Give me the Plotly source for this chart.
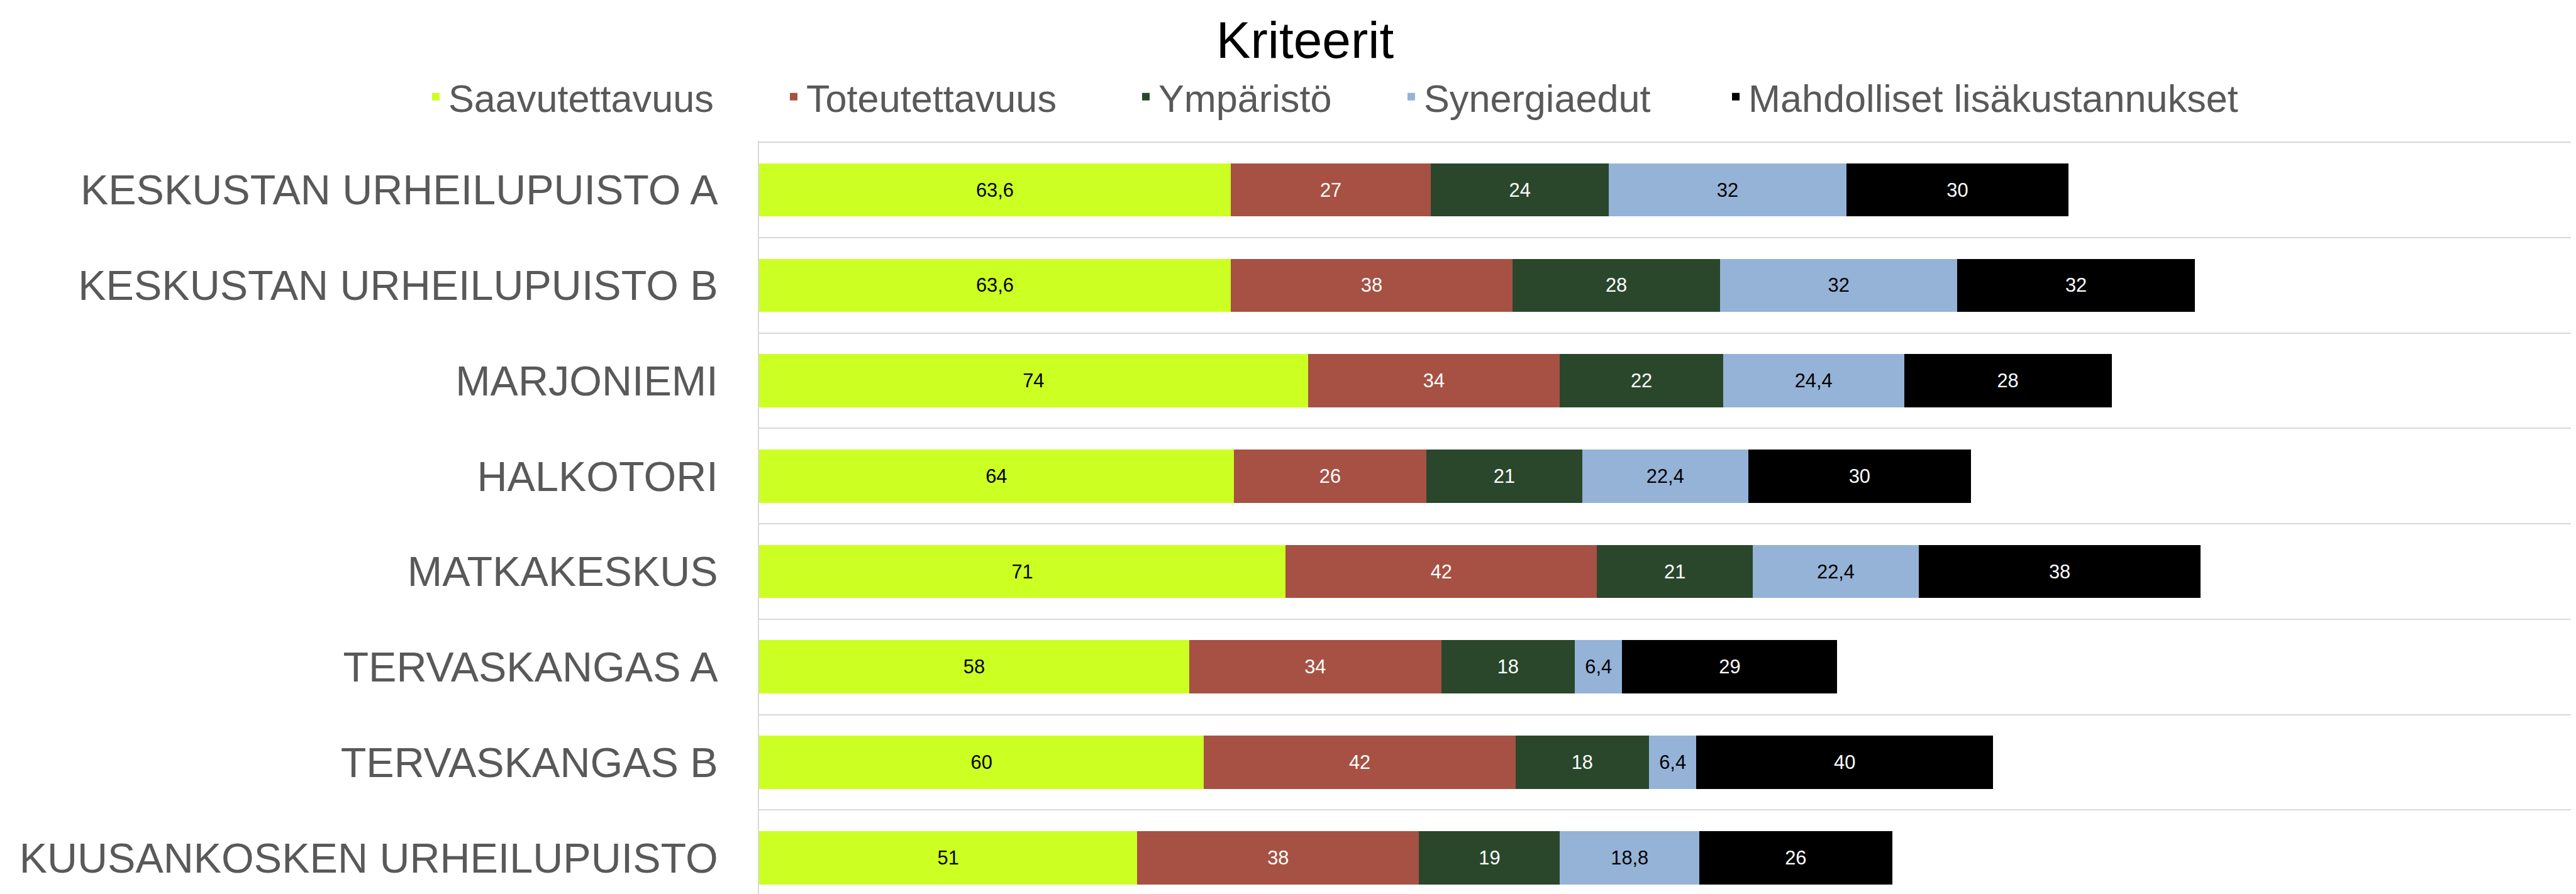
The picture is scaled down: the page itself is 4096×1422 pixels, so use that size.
import plotly.graph_objects as go

categories = [
    "KESKUSTAN URHEILUPUISTO A",
    "KESKUSTAN URHEILUPUISTO B",
    "MARJONIEMI",
    "HALKOTORI",
    "MATKAKESKUS",
    "TERVASKANGAS A",
    "TERVASKANGAS B",
    "KUUSANKOSKEN URHEILUPUISTO",
]
series_names = ["Saavutettavuus", "Toteutettavuus", "Ympäristö", "Synergiaedut",
                "Mahdolliset lisäkustannukset"]
saavutettavuus = [63.6, 63.6, 74, 64, 71, 58, 60, 51]
toteutettavuus = [27, 38, 34, 26, 42, 34, 42, 38]
ymparisto = [24, 28, 22, 21, 21, 18, 18, 19]
synergiaedut = [32, 32, 24.4, 22.4, 22.4, 6.4, 6.4, 18.8]
lisakustannukset = [30, 32, 28, 30, 38, 29, 40, 26]

series_values = [saavutettavuus, toteutettavuus, ymparisto, synergiaedut, lisakustannukset]
colors = ["#CCFF22", "#A65143", "#2A472C", "#95B3D7", "#000000"]
label_colors = ["#000000", "#FFFFFF", "#FFFFFF", "#000000", "#FFFFFF"]

W, H = 4096, 1422
FONT = "Liberation Sans, Arial, sans-serif"

def fmt(v):
    s = ("%g" % v)
    return s.replace(".", ",")

# legend positions (container px)
legend_x_px = [665, 1234, 1794, 2216, 2732]

fig = go.Figure()
legend_ids = ["legend", "legend2", "legend3", "legend4", "legend5"]
for i, (name, vals) in enumerate(zip(series_names, series_values)):
    fig.add_trace(go.Bar(
        name=name,
        y=categories,
        x=vals,
        orientation="h",
        marker=dict(color=colors[i], line=dict(width=0)),
        text=[fmt(v) for v in vals],
        textposition="inside",
        insidetextanchor="middle",
        textangle=0,
        textfont=dict(family=FONT, size=30.8, color=label_colors[i]),
        legend=legend_ids[i],
        hoverinfo="x+y+name",
    ))

layout_legends = {}
for i, lid in enumerate(legend_ids):
    layout_legends[lid] = dict(
        xref="container", yref="container",
        x=legend_x_px[i] / W, y=1 - 146 / H,
        xanchor="left", yanchor="middle",
        orientation="h",
        font=dict(family=FONT, size=61.2, color="#595959"),
        bgcolor="rgba(0,0,0,0)",
        borderwidth=0,
        itemwidth=30,
    )

fig.update_layout(
    width=W, height=H,
    paper_bgcolor="white", plot_bgcolor="white",
    barmode="stack",
    bargap=0.442,
    margin=dict(l=1199, r=0, t=215.7, b=0, pad=0),
    title=dict(text="Kriteerit", font=dict(family=FONT, size=82, color="#000000"),
               xref="container", yref="container", x=2067 / W, y=1 - 55 / H,
               xanchor="center", yanchor="middle"),
    showlegend=True,
    font=dict(family=FONT),
    **layout_legends,
)

# top category boundary gridline
fig.add_shape(type="line", xref="paper", yref="y", x0=0, x1=1, y0=-0.5, y1=-0.5,
              line=dict(color="#D9D9D9", width=2), layer="below")

fig.update_xaxes(range=[0, 245.7], showgrid=False, zeroline=False,
                 showticklabels=False, showline=False, ticks="")
fig.update_yaxes(type="category", categoryorder="array", categoryarray=categories,
                 range=[7.433, -0.515], tickson="boundaries", showgrid=True,
                 gridcolor="#D9D9D9", gridwidth=2, showline=True, linecolor="#D9D9D9",
                 linewidth=2, ticks="", ticklabelstandoff=50,
                 tickfont=dict(family=FONT, size=66.5, color="#595959"))

fig.write_html("out.html")
